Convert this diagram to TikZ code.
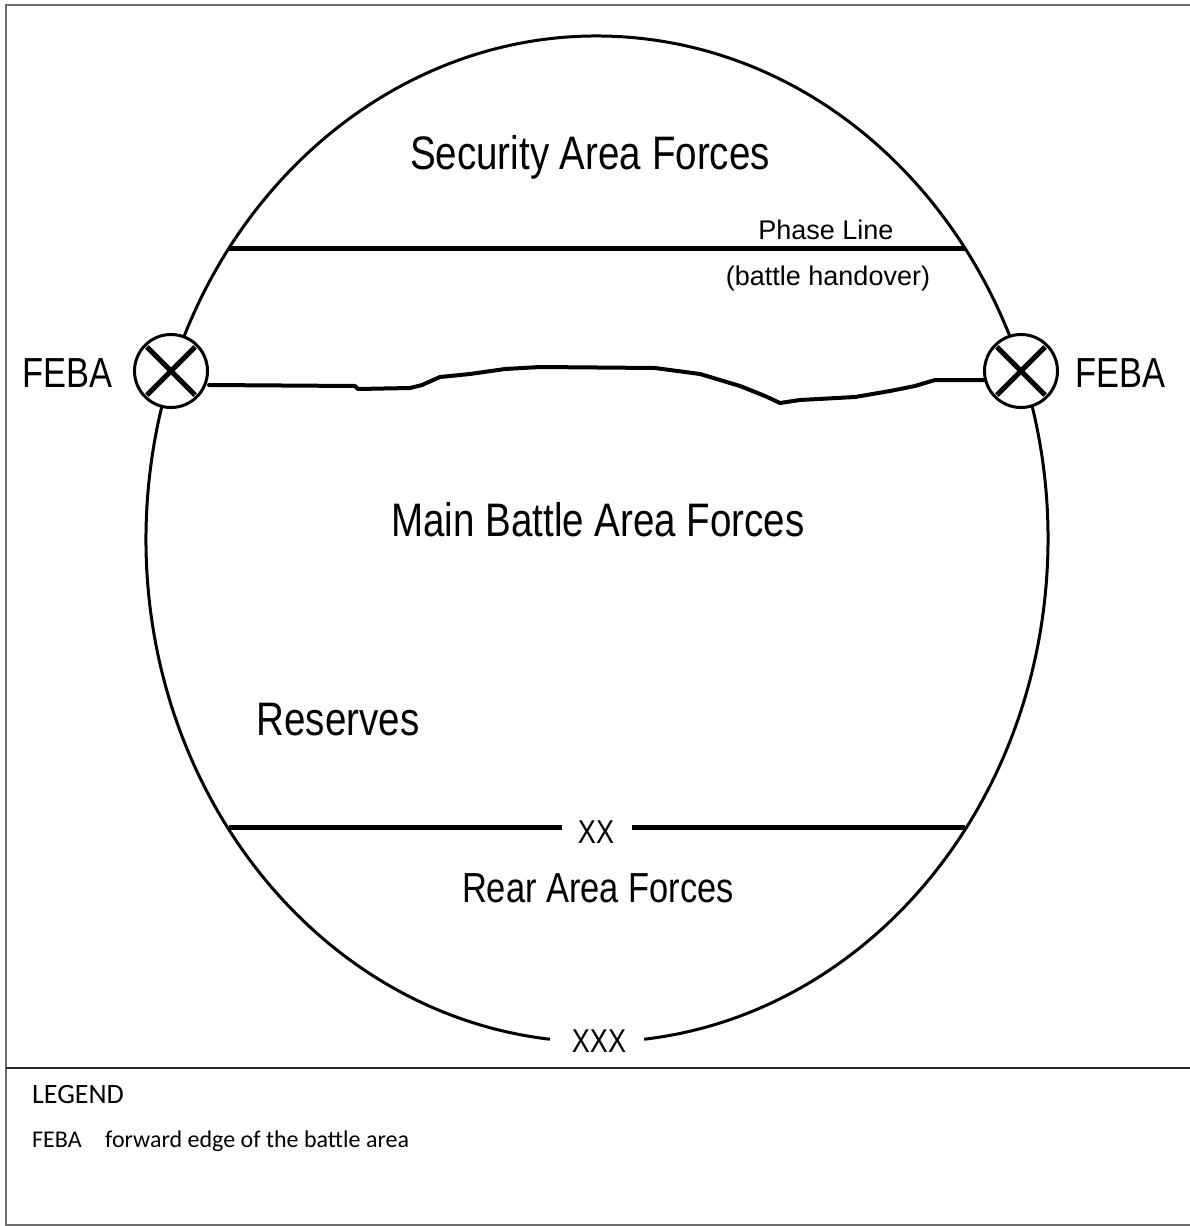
\documentclass[tikz,border=0pt]{standalone}
\usepackage{fontspec}
\setmainfont{Liberation Sans}
\newfontfamily\narrowfont{Liberation Sans}[FakeStretch=0.82]
\newfontfamily\legendfont{Carlito}
\definecolor{framegray}{HTML}{6E6E6E}
\begin{document}
\begin{tikzpicture}[x=1pt,y=-1pt,
  bigtext/.style={font=\narrowfont\fontsize{47}{47}\selectfont, inner sep=0pt, anchor=base},
  midtext/.style={font=\narrowfont\fontsize{42}{42}\selectfont, inner sep=0pt, anchor=base},
  smalltext/.style={font=\narrowfont\fontsize{33}{33}\selectfont, inner sep=0pt, anchor=base},
  notetext/.style={font=\fontsize{27}{27}\selectfont, inner sep=0pt, anchor=base},
  legtext/.style={font=\legendfont\fontsize{24}{24}\selectfont, inner sep=0pt, anchor=base west},
  legtitle/.style={font=\legendfont\fontsize{28}{28}\selectfont, inner sep=0pt, anchor=base west},
  boundary/.style={line width=5pt},
  marker/.style={circle, draw, line width=3pt, fill=white, minimum size=73pt, inner sep=0pt},
  crossbar/.style={line width=5pt},
  febaline/.style={line width=4pt, line join=round, line cap=round}]
% page extent
\useasboundingbox (0,0) rectangle (1190,1226);
% outer frame (open on the right) and legend divider
\draw[framegray, line width=2pt] (1190,5) -- (6,5) -- (6,1225) -- (1190,1225);
\draw[black!85, line width=2pt] (6,1068) -- (1190,1068);

% the corps area: an ellipse with a gap for the boundary label
\coordinate (c) at (597,539);
\draw[line width=3pt] (c) ++(96:451 and 503) arc[start angle=96, end angle=444, x radius=451, y radius=503];
\node[smalltext] (xxx) at (599,1052) {XXX};

% phase line (battle handover)
\coordinate (plL) at (229,248);
\coordinate (plR) at (965,248);
\draw[boundary] (plL) -- (plR);
\node[notetext] (pl) at (826,239) {Phase Line};
\node[notetext] (bh) at (828,285) {(battle handover)};

% division rear boundary
\coordinate (xxL) at (229,827);
\coordinate (xxR) at (965,827);
\node[smalltext] (xx) at (596,843) {XX};
\coordinate (xxA) at (562,827);
\coordinate (xxB) at (632,827);
\draw[boundary] (xxL) -- (xxA);
\draw[boundary] (xxB) -- (xxR);

% forward edge of the battle area
\draw[febaline] (209,385) -- (355,386) -- (358,389) -- (410,388) -- (422,385) -- (440,377)
  -- (470,374) -- (505,369) -- (540,367) -- (655,368) -- (700,374) -- (740,386)
  -- (765,396) -- (780,403) -- (800,400) -- (855,397) -- (890,391) -- (915,386)
  -- (935,380) -- (984,380);

% FEBA markers
\node[marker] (mL) at (171,371) {};
\node[marker] (mR) at (1021,371) {};
\foreach \m in {mL,mR}{
  \draw[crossbar] (\m.center) ++(45:34) -- ++(225:68);
  \draw[crossbar] (\m.center) ++(135:34) -- ++(315:68);
}
\node[midtext] (febaL) at (67,387) {FEBA};
\node[midtext] (febaR) at (1120,387) {FEBA};

% area labels
\node[bigtext] (sec) at (590,169) {Security Area Forces};
\node[bigtext] (mba) at (598,536) {Main Battle Area Forces};
\node[bigtext] (res) at (338,735) {Reserves};
\node[midtext] (rear) at (598,902) {Rear Area Forces};

% legend
\node[legtitle] (leg) at (32,1103) {LEGEND};
\node[legtext] (legA) at (32,1147) {FEBA};
\node[legtext] (legB) at (105,1147) {forward edge of the battle area};
\end{tikzpicture}
\end{document}
